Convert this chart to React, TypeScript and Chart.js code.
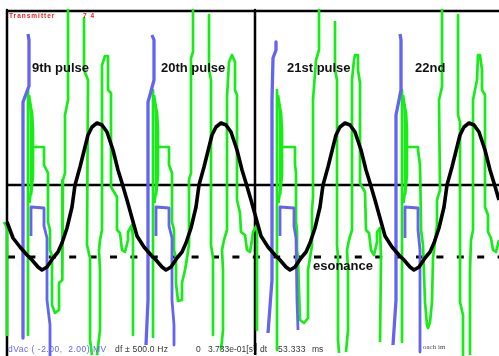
import React, { useEffect, useRef } from "react";
import { Chart, registerables } from "chart.js";
Chart.register(...registerables);

type P = [number, number];

// x: time in screen samples (0..499), y: trace level (0 = top, 356 = bottom)
const X_MAX = 499;
const Y_MAX = 356;

// black resonance trace
const sineTrace: P[] = [
  [7, 222], [13, 238], [20, 247], [27, 255], [32, 260], [38, 267], [42, 270], [47, 267], [53, 258], [58, 252], [62, 243], [67, 228], [72, 207], [75, 185], [80, 167], [85, 147], [88, 135], [92, 127], [97, 123], [102, 125], [107, 132], [113, 150], [118, 170], [122, 183], [127, 200], [132, 218],
  [137, 236], [144, 247], [151, 255], [156, 260], [162, 267], [166, 270], [171, 267], [177, 258], [182, 252], [186, 243], [191, 228], [196, 207], [199, 185], [204, 167], [209, 147], [212, 135], [216, 127], [221, 123], [226, 125], [231, 132], [237, 150], [242, 170], [246, 183], [251, 200], [256, 218],
  [261, 236], [268, 247], [275, 255], [280, 260], [286, 267], [290, 270], [295, 267], [301, 258], [306, 252], [310, 243], [315, 228], [320, 207], [323, 185], [328, 167], [333, 147], [336, 135], [340, 127], [345, 123], [350, 125], [355, 132], [361, 150], [366, 170], [370, 183], [375, 200], [380, 218],
  [385, 236], [392, 247], [399, 255], [404, 260], [410, 267], [414, 270], [419, 267], [425, 258], [430, 252], [434, 243], [439, 228], [444, 207], [447, 185], [452, 167], [457, 147], [460, 135], [464, 127], [469, 123], [474, 125], [479, 132], [485, 150], [490, 170], [494, 183], [499, 200],
];

// blue traces
const blueMain9: P[] = [[28, 34], [29, 40], [29, 86], [26, 94], [23, 102], [23, 338]];
const blueStep9: P[] = [[31, 236], [31, 207], [44, 208], [44, 226], [47, 238], [47, 300], [50, 325], [50, 356]];
const blueMain20: P[] = [[152, 35], [154, 40], [154, 80], [150, 95], [148, 102], [148, 300], [146, 345]];
const blueStep20: P[] = [[156, 236], [156, 207], [169, 208], [169, 226], [172, 238], [172, 300], [174, 325], [174, 345]];
const blueMain21: P[] = [[276, 42], [276, 50], [273, 58], [272, 100], [272, 280], [268, 333]];
const blueStep21: P[] = [[280, 236], [280, 207], [294, 208], [294, 226], [296, 238], [297, 300], [298, 330]];
const blueMain22: P[] = [[400, 34], [401, 40], [401, 90], [398, 105], [396, 115], [396, 300], [393, 345]];
const blueStep22: P[] = [[405, 238], [405, 207], [418, 208], [418, 230], [420, 250], [420, 352]];

// green traces
const greenPrev: P[] = [[4, 222], [7, 228], [7, 335]];
const greenA9: P[][] = [
  [[28, 90], [28, 335]],
  [[29, 95], [30.5, 105], [31, 125], [31, 190], [29.5, 203]],
  [[29, 100], [32, 112], [33, 130], [33, 175], [31, 195]],
];
const greenB9: P[] = [[68, 10], [68, 100], [65, 115], [65, 173], [63, 180], [63, 245], [62, 258], [62, 280], [59, 283], [59, 310], [55, 313], [52, 305], [52, 256], [50, 250], [50, 230], [48, 222], [48, 173], [44, 165], [44, 147], [33, 147]];
const greenC9: P[] = [[84, 18], [84, 70], [88, 80], [87, 245], [90, 258], [90, 340], [92, 355]];
const greenD9: P[] = [[97, 355], [100, 330], [100, 270], [99, 250], [100, 240], [102, 230], [102, 65], [105, 56], [108, 56], [108, 90], [111, 93], [111, 187], [117, 197], [117, 230], [120, 233], [122, 250], [125, 252], [128, 240], [128, 232], [132, 225], [133, 240], [133, 335]];

const greenA20: P[][] = [
  [[153, 90], [153, 337]],
  [[154, 95], [155.5, 105], [156, 125], [156, 190], [154.5, 203]],
  [[154, 100], [157, 112], [158, 130], [158, 175], [156, 195]],
];
const greenB20: P[] = [[193, 10], [193, 52], [191, 58], [191, 173], [189, 180], [189, 245], [187, 258], [185, 270], [182, 283], [182, 300], [178, 301], [176, 283], [176, 258], [174, 250], [174, 230], [172, 222], [172, 173], [169, 165], [169, 147], [158, 147]];
const greenC20: P[] = [[209, 15], [209, 70], [211, 80], [211, 245], [213, 258], [213, 335]];
const greenD20: P[] = [[221, 350], [223, 330], [223, 270], [222, 250], [224, 240], [227, 230], [227, 97], [229, 62], [232, 55], [235, 62], [235, 90], [237, 95], [237, 200], [240, 213], [241, 232], [245, 235], [247, 250], [250, 252], [252, 240], [253, 232], [257, 225], [257, 330]];

const greenA21: P[][] = [
  [[277, 90], [277, 350]],
  [[278, 95], [279.5, 105], [280, 125], [280, 190], [278.5, 203]],
  [[278, 100], [281, 112], [282, 130], [282, 175], [280, 195]],
];
const greenB21: P[] = [[319, 10], [319, 50], [316, 60], [313, 100], [313, 197], [312, 210], [312, 245], [310, 258], [308, 270], [308, 318], [304, 323], [300, 320], [299, 290], [298, 258], [297, 250], [297, 230], [296, 222], [296, 173], [295, 165], [295, 147], [282, 147]];
const greenC21: P[] = [[335, 22], [335, 70], [337, 80], [337, 245], [338, 258], [338, 340], [339, 353]];
const greenD21: P[] = [[346, 352], [348, 330], [348, 270], [347, 250], [349, 240], [352, 230], [352, 80], [354, 60], [355, 55], [358, 55], [358, 70], [360, 83], [360, 183], [365, 192], [366, 230], [369, 233], [371, 250], [374, 255], [377, 242], [377, 232], [380, 228], [381, 258], [380, 342]];

const greenA22: P[][] = [
  [[402, 90], [402, 342]],
  [[403, 95], [404.5, 105], [405, 125], [405, 190], [403.5, 203]],
  [[403, 100], [406, 112], [407, 130], [407, 175], [405, 195]],
];
const greenB22: P[] = [[442, 10], [442, 87], [439, 100], [440, 190], [437, 200], [437, 225], [433, 258], [432, 302], [430, 322], [428, 328], [427, 325], [425, 302], [423, 245], [421, 230], [421, 222], [420, 165], [418, 150], [418, 147], [407, 147]];
const greenC22: P[] = [[458, 15], [458, 115], [460, 122], [460, 302], [463, 315], [463, 355]];
const greenD22: P[] = [[470, 355], [470, 338], [470, 270], [471, 240], [473, 230], [473, 100], [477, 80], [478, 55], [480, 55], [482, 70], [482, 90], [485, 95], [485, 207], [488, 215], [488, 232], [491, 238], [493, 250], [496, 252], [499, 240]];

// scope frame and reference levels
const frameTop: P[] = [[7, 11], [499, 11]];
const frameLeft: P[] = [[7, 10], [7, 356]];
const frameMid: P[] = [[255, 10], [255, 350]];
const zeroLevel: P[] = [[7, 185], [499, 185]];
const resonanceLevel: P[] = [[8, 257], [499, 257]];

// texts
const pulseNames = ["9th pulse", "20th pulse", "21st pulse", "22nd"];
const footerTexts = ["dVac ( -2.00,  2.00) MV", "df \u00b1 500.0 Hz", "0", "3.733e-01[s]", "dt", "53.333", "ms"];

const GREEN = "rgb(24,236,24)";
const BLUE = "rgb(100,100,240)";
const BLACK = "#000";

const toXY = (p: P[]) => p.map(([x, y]) => ({ x, y }));

export default function App() {
  const ref = useRef<HTMLCanvasElement>(null);
  useEffect(() => {
    if (!ref.current) return;
    const datasets: any[] = [];
    const add = (pts: P[], color: string, width: number, order: number, dash?: number[]) => {
      datasets.push({
        data: toXY(pts),
        borderColor: color,
        borderWidth: width,
        showLine: true,
        pointRadius: 0,
        fill: false,
        order,
        borderDash: dash || [],
        borderJoinStyle: "round",
        clip: 4,
      });
    };
    // frame (bottom)
    add(frameTop, BLACK, 2.7, 10);
    add(frameLeft, BLACK, 2.5, 10);
    add(frameMid, BLACK, 2.5, 10);
    add(zeroLevel, BLACK, 2.5, 10);
    add(resonanceLevel, BLACK, 3, 9, [7, 13.4]);
    // green
    const greens: P[][] = [
      greenPrev,
      ...greenA9, greenB9, greenC9, greenD9,
      ...greenA20, greenB20, greenC20, greenD20,
      ...greenA21, greenB21, greenC21, greenD21,
      ...greenA22, greenB22, greenC22, greenD22,
    ];
    greens.forEach((g) => add(g, GREEN, 2.7, 5));
    // blue
    [blueMain9, blueMain20, blueMain21, blueMain22].forEach((b) => add(b, BLUE, 3.3, 3));
    [blueStep9, blueStep20, blueStep21, blueStep22].forEach((b) => add(b, BLUE, 2.8, 3));
    // sine on top
    add(sineTrace, BLACK, 3.6, 1);

    const pulseX = [32, 161, 287, 415];
    const footerX = [8, 115, 196, 208, 260, 278, 312];
    const footerSpacing = [0.5, 0.2, 0, 0, 0, 0.3, 0];
    const textPlugin = {
      id: "scopeText",
      afterDatasetsDraw(chart: any) {
        const ctx = chart.ctx as CanvasRenderingContext2D;
        const xs = chart.scales.x;
        const ys = chart.scales.y;
        ctx.save();
        ctx.textBaseline = "alphabetic";
        ctx.textAlign = "left";
        // header
        ctx.fillStyle = "rgb(240,30,30)";
        ctx.font = 'bold 6.5px "Liberation Sans", Arial, sans-serif';
        (ctx as any).letterSpacing = "1px";
        ctx.fillText("Transmitter", xs.getPixelForValue(9), ys.getPixelForValue(17.5));
        ctx.fillText("7 4", xs.getPixelForValue(83), ys.getPixelForValue(17.5));
        // pulse names
        (ctx as any).letterSpacing = "0px";
        ctx.fillStyle = "#111";
        ctx.font = 'bold 13px "Liberation Sans", Arial, sans-serif';
        pulseNames.forEach((t, i) => ctx.fillText(t, xs.getPixelForValue(pulseX[i]), ys.getPixelForValue(72)));
        ctx.fillText("esonance", xs.getPixelForValue(313), ys.getPixelForValue(270));
        // footer
        ctx.font = '8.5px "Liberation Sans", Arial, sans-serif';
        footerTexts.forEach((t, i) => {
          ctx.fillStyle = i === 0 ? BLUE : "#333";
          (ctx as any).letterSpacing = footerSpacing[i] + "px";
          ctx.fillText(t, xs.getPixelForValue(footerX[i]), ys.getPixelForValue(352));
        });
        // the vertical divider sits over the end of the time label
        ctx.fillStyle = BLACK;
        ctx.fillRect(xs.getPixelForValue(254), ys.getPixelForValue(343), 2.5, 12);
        (ctx as any).letterSpacing = "0px";
        ctx.fillStyle = "#444";
        ctx.font = '7px "Liberation Serif", "Times New Roman", serif';
        ctx.fillText("oach im", xs.getPixelForValue(423), ys.getPixelForValue(348.5));
        ctx.restore();
      },
    };

    const chart = new Chart(ref.current, {
      type: "scatter",
      data: { datasets },
      options: {
        animation: false,
        responsive: false,
        layout: { padding: 0 },
        plugins: { legend: { display: false }, tooltip: { enabled: false } },
        events: [],
        scales: {
          x: { type: "linear", min: 0, max: X_MAX, display: false },
          y: { type: "linear", min: 0, max: Y_MAX, reverse: true, display: false },
        },
      },
      plugins: [textPlugin],
    });
    return () => chart.destroy();
  }, []);

  return (
    <div style={{ position: "fixed", left: 0, top: 0, width: 499, height: 356, background: "#fff" }}>
      <canvas ref={ref} width={499} height={356} style={{ display: "block" }} />
    </div>
  );
}
